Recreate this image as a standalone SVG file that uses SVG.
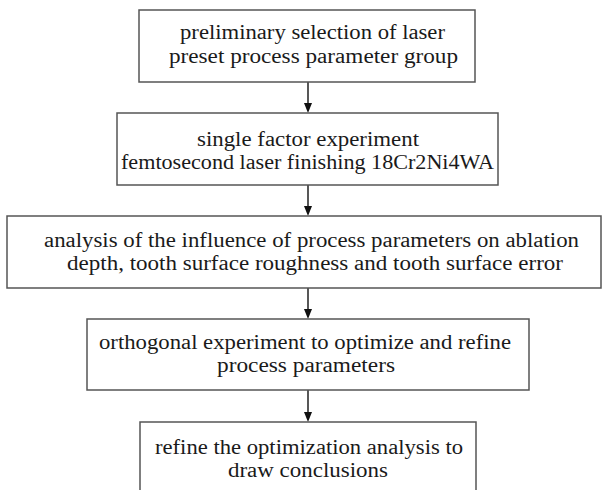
<svg xmlns="http://www.w3.org/2000/svg" width="602" height="490" viewBox="0 0 602 490">
<style>
.box{fill:#fff;stroke:#555;stroke-width:1.5}
.t{font-family:"Liberation Serif","Times New Roman",serif;font-size:20px;fill:#1a1a1a;text-anchor:middle}
.c{stroke:#111;stroke-width:1.4;fill:none}
.ah{fill:#111}
</style>
<rect width="602" height="490" fill="#fff"/>
<g id="connectors">
<line class="c" x1="308" y1="82" x2="308" y2="105"/>
<path class="ah" d="M304,103 L312,103 L308,113 Z"/>
<line class="c" x1="308" y1="185" x2="308" y2="208"/>
<path class="ah" d="M304,206 L312,206 L308,216 Z"/>
<line class="c" x1="308" y1="288" x2="308" y2="311"/>
<path class="ah" d="M304,309 L312,309 L308,319 Z"/>
<line class="c" x1="308" y1="390" x2="308" y2="414"/>
<path class="ah" d="M304,412 L312,412 L308,422 Z"/>
</g>
<g id="node1">
<rect class="box" x="139" y="10" width="336" height="72"/>
<text class="t" x="312.5" y="39" textLength="265" lengthAdjust="spacingAndGlyphs">preliminary selection of laser</text>
<text class="t" x="313.5" y="63" textLength="289" lengthAdjust="spacingAndGlyphs">preset process parameter group</text>
</g>
<g id="node2">
<rect class="box" x="117" y="113" width="381" height="72"/>
<text class="t" x="308" y="146" textLength="222" lengthAdjust="spacingAndGlyphs">single factor experiment</text>
<text class="t" x="307.5" y="169" textLength="373" lengthAdjust="spacingAndGlyphs">femtosecond laser finishing 18Cr2Ni4WA</text>
</g>
<g id="node3">
<rect class="box" x="7" y="216" width="594" height="72"/>
<text class="t" x="311.5" y="247" textLength="535" lengthAdjust="spacingAndGlyphs">analysis of the influence of process parameters on ablation</text>
<text class="t" x="315" y="270" textLength="496" lengthAdjust="spacingAndGlyphs">depth, tooth surface roughness and tooth surface error</text>
</g>
<g id="node4">
<rect class="box" x="87" y="319" width="442" height="71"/>
<text class="t" x="305" y="349" textLength="412" lengthAdjust="spacingAndGlyphs">orthogonal experiment to optimize and refine</text>
<text class="t" x="306" y="372" textLength="178" lengthAdjust="spacingAndGlyphs">process parameters</text>
</g>
<g id="node5">
<rect class="box" x="140" y="422" width="336" height="80"/>
<text class="t" x="309" y="454" textLength="308" lengthAdjust="spacingAndGlyphs">refine the optimization analysis to</text>
<text class="t" x="308" y="477" textLength="160" lengthAdjust="spacingAndGlyphs">draw conclusions</text>
</g>
</svg>
